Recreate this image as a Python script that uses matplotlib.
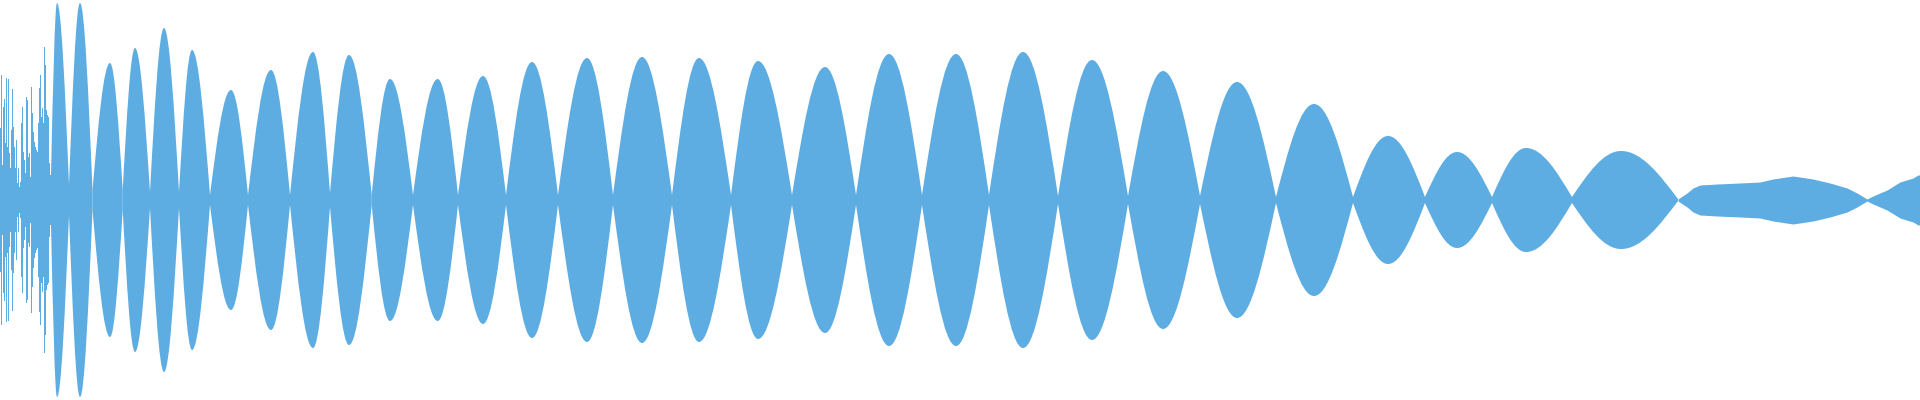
import numpy as np
import matplotlib
matplotlib.use("Agg")
import matplotlib.pyplot as plt
from matplotlib.path import Path
from matplotlib.patches import PathPatch

# colour of the waveform
wave_color = "#5DADE2"

# noisy attack at the start: level of each sample column (0-200 scale)
head_amp = [72, 125, 35, 93, 101, 57, 122, 53, 121, 47,
            32, 70, 111, 73, 53, 32, 60, 17, 32, 13,
            18, 77, 93, 48, 40, 27, 103, 100, 43, 47,
            23, 113, 87, 68, 58, 53, 50, 48, 77, 112,
            125, 83, 92, 77, 153, 135, 90, 85, 83, 37, 25]

# beating part: zero crossings of the envelope and the lobe peaks
node_x = [51, 69, 92.5, 122.7, 150, 179, 210, 248, 290, 330,
          371.7, 413, 458, 506, 558, 613, 672, 731, 792, 856,
          922, 989, 1058, 1128, 1200, 1276, 1353, 1425, 1492, 1572, 1678]
node_amp = [25, 15, 10, 10, 8, 8, 5, 5, 5, 7,
            5, 5, 5, 5, 5, 5, 5, 5, 5, 5,
            5, 5, 4, 4, 4, 3, 3, 3, 3, 3, 1]
peak_x = [57, 80, 110, 135, 164, 192, 231, 271, 313, 349,
          390, 437.7, 483, 532, 587, 642, 699, 758, 825, 889,
          956, 1023, 1092, 1163, 1237, 1314, 1388, 1457, 1526, 1621]
peak_amp = [197, 197, 137, 152, 172, 150, 110, 130, 148, 145,
            121, 121, 124, 138, 142, 143, 142, 139, 133, 146,
            146, 148, 140, 129, 118, 96, 64, 48, 52, 49]

# quiet tail at the end
tail_x = [1678, 1687, 1693, 1700, 1717, 1740, 1760, 1773, 1793, 1813,
          1830, 1847, 1857, 1867, 1873, 1887, 1900, 1913, 1918, 1920]
tail_amp = [1, 7, 12, 15, 16, 17, 18, 21, 24, 21,
            17, 12, 7, 1, 4, 10, 18, 22, 25, 25]


def lobe_path(x0, xp, amp, x1, n0, n1):
    wl = xp - x0
    wr = x1 - xp
    up = [(x0, n0),
          (x0 + 0.326 * wl, n0 + 0.512 * (amp - n0)), (x0 + 0.638 * wl, amp), (xp, amp),
          (xp + 0.362 * wr, amp), (xp + 0.674 * wr, n1 + 0.512 * (amp - n1)), (x1, n1)]
    down = [(x, -y) for x, y in reversed(up)]
    verts = up + down + [(x0, n0)]
    codes = ([Path.MOVETO] + [Path.CURVE4] * 6 + [Path.LINETO]
             + [Path.CURVE4] * 6 + [Path.CLOSEPOLY])
    return Path(verts, codes)


fig = plt.figure(figsize=(19.2, 4), dpi=100)
ax = fig.add_axes([0, 0, 1, 1])
ax.set_xlim(0, 1920)
ax.set_ylim(-200, 200)
ax.axis("off")

h = np.array(head_amp)
ax.bar(np.arange(len(h)), 2 * h, bottom=-h, width=1, align="edge",
       color=wave_color, linewidth=0)

for i in range(len(peak_x)):
    p = lobe_path(node_x[i], peak_x[i], peak_amp[i], node_x[i + 1],
                  node_amp[i], node_amp[i + 1])
    ax.add_patch(PathPatch(p, facecolor=wave_color, edgecolor="none"))

t = np.array(tail_amp)
ax.fill_between(tail_x, -t, t, color=wave_color, linewidth=0)

fig.savefig("out.png", dpi=100, facecolor="white")
